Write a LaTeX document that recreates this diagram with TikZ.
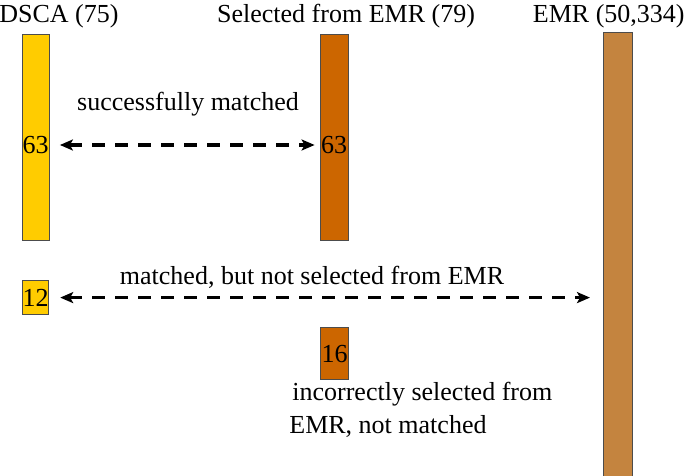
\documentclass[tikz,border=0pt]{standalone}
\usepackage{fontspec}
\setmainfont{Liberation Serif}
\usetikzlibrary{arrows.meta}
\definecolor{cdsca}{HTML}{FFCC00}
\definecolor{csel}{HTML}{CC6600}
\definecolor{cemr}{HTML}{C4843F}
\begin{document}
\begin{tikzpicture}[x=0.5pt,y=-0.5pt,
  font=\fontsize{13}{15.6}\selectfont,
  bar/.style={draw=black!70, line width=0.6pt, inner sep=0pt, anchor=north west},
  lbl/.style={inner sep=0pt, anchor=base},
  num/.style={inner sep=0pt},
  dasharrow/.style={line width=1.8pt, dash pattern=on 6.5pt off 5pt,
    {Stealth[length=6.5pt,width=5.5pt,inset=1.5pt]}-{Stealth[length=6.5pt,width=5.5pt,inset=1.5pt]}}]
\useasboundingbox (0,0) rectangle (685,476);
% bars
\node[bar, fill=cdsca, minimum width=13.5pt, minimum height=103pt] (dsca) at (22,34) {};
\node[bar, fill=csel, minimum width=14pt, minimum height=103pt] (sel) at (320,34) {};
\node[bar, fill=cemr, minimum width=14.5pt, minimum height=225pt] (emr) at (603,32) {};
\node[bar, fill=cdsca, minimum width=13pt, minimum height=17pt] (b12) at (22,280) {12};
\node[bar, fill=csel, minimum width=14pt, minimum height=26pt] (b16) at (320,327) {16};
% numbers
\node[num] (t63a) at (35.5,145) {63};
\node[num] (t63b) at (334,145) {63};
% labels
\node[lbl, anchor=base west] (l1) at (-1,23) {DSCA (75)};
\node[lbl] (l2) at (346,23) {Selected from EMR (79)};
\node[lbl, anchor=base east] (l3) at (685,23) {EMR (50,334)};
\node[lbl] (sm) at (188,111) {successfully matched};
\node[lbl] (mb) at (312,284) {matched, but not selected from EMR};
\node[lbl, anchor=base west] (ic1) at (292,400) {incorrectly selected from};
\node[lbl, anchor=base west] (ic2) at (289,433) {EMR, not matched};
% connectors
\draw[dasharrow, shorten <=5.5pt, shorten >=3pt] (t63a.east) -- (t63b.west);
\draw[dasharrow, shorten <=5.5pt, shorten >=6.5pt] (b12.east) -- (b12.east -| emr.west);
\end{tikzpicture}
\end{document}
